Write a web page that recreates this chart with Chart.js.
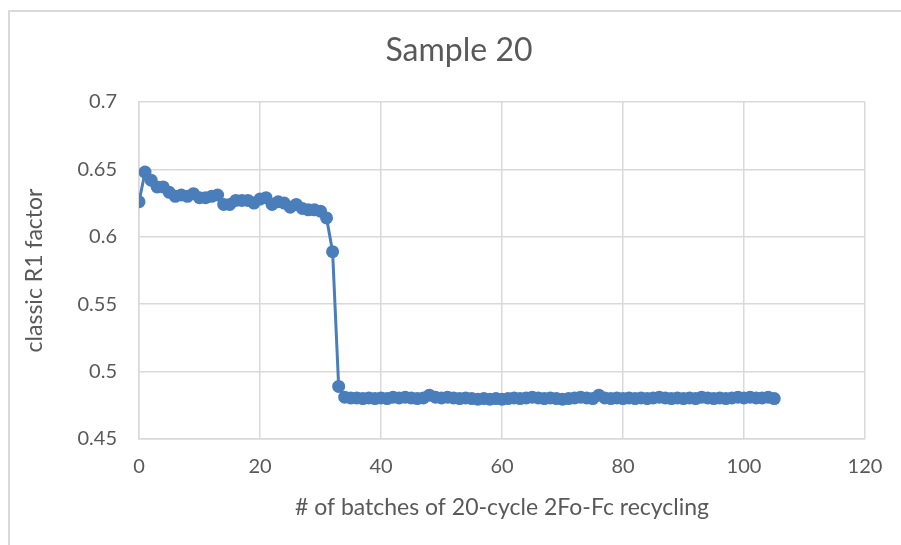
<!DOCTYPE html>
<html>
<head>
<meta charset="utf-8">
<script src="https://cdn.jsdelivr.net/npm/chart.js@4/dist/chart.umd.min.js"></script>
<style>
    html, body { margin: 0; padding: 0; background: #fff; }
    #wrap { position: relative; width: 901px; height: 545px; overflow: hidden; }
    #frame { position: absolute; left: 8px; top: 10px; width: 1000px; height: 600px; border: 2px solid #d9d9d9; box-sizing: border-box; }
    canvas { position: absolute; left: 0; top: 0; }
</style>
</head>
<body>
<div id="wrap">
    <div id="frame"></div>
    <canvas id="r1Chart" width="901" height="545"></canvas>
</div>
<script>
// Дані графіка
const chartTitle = 'Sample 20';
const xAxisTitle = '# of batches of 20-cycle 2Fo-Fc recycling';
const yAxisTitle = 'classic R1 factor';

const xTicks = [0, 20, 40, 60, 80, 100, 120];
const yTicks = [0.45, 0.5, 0.55, 0.6, 0.65, 0.7];

// Значення R1 для партій 0..105
const r1Values = [
    0.626, 0.648, 0.642, 0.637, 0.637, 0.633, 0.630, 0.631, 0.630, 0.632,
    0.629, 0.629, 0.630, 0.631, 0.624, 0.624, 0.627, 0.627, 0.627, 0.625,
    0.628, 0.629, 0.624, 0.626, 0.625, 0.622, 0.624, 0.621, 0.620, 0.620,
    0.619, 0.614, 0.589, 0.489, 0.481, 0.4805, 0.4805, 0.480, 0.4805, 0.480,
    0.4805, 0.480, 0.481, 0.4805, 0.481, 0.4805, 0.480, 0.4805, 0.4825, 0.481,
    0.4805, 0.481, 0.4805, 0.480, 0.4805, 0.480, 0.4795, 0.480, 0.4795, 0.480,
    0.4795, 0.480, 0.4805, 0.480, 0.4805, 0.481, 0.4805, 0.480, 0.4805, 0.480,
    0.4795, 0.480, 0.4805, 0.481, 0.4805, 0.480, 0.4825, 0.4805, 0.480, 0.4805,
    0.480, 0.4805, 0.480, 0.4805, 0.480, 0.4805, 0.481, 0.4805, 0.480, 0.4805,
    0.480, 0.4805, 0.480, 0.481, 0.4805, 0.480, 0.4805, 0.480, 0.4805, 0.481,
    0.4805, 0.481, 0.4805, 0.4805, 0.481, 0.480
];
const batches = r1Values.map((v, i) => i);

const lineColor = '#4a7ebb';
const textColor = '#595959';
const gridColor = '#d9d9d9';
const fontFamily = 'Lato, "Open Sans", sans-serif';

// Лівий відступ більший, щоб заголовок стояв по центру рамки, як в Excel
const padLeft = 53;

new Chart(document.getElementById('r1Chart'), {
    type: 'line',
    data: {
        datasets: [{
            data: batches.map((x, i) => ({ x: x, y: r1Values[i] })),
            borderColor: lineColor,
            backgroundColor: lineColor,
            borderWidth: 3,
            pointRadius: 6.5,
            pointHoverRadius: 6.5,
            pointBorderWidth: 0,
            tension: 0
        }]
    },
    options: {
        responsive: false,
        animation: false,
        layout: {
            padding: { left: padLeft, right: 36, top: 0, bottom: 20 }
        },
        plugins: {
            legend: { display: false },
            tooltip: { enabled: false },
            title: {
                display: true,
                text: chartTitle,
                color: textColor,
                font: { family: fontFamily, size: 32, weight: 'normal', lineHeight: 1.2 },
                padding: { top: 31, bottom: 32.6 }
            }
        },
        scales: {
            x: {
                type: 'linear',
                min: 0,
                max: 120,
                afterBuildTicks: axis => { axis.ticks = xTicks.map(v => ({ value: v })); },
                afterFit: axis => { axis.height = 545 - 20 - 439; },
                ticks: {
                    color: textColor,
                    font: { family: fontFamily, size: 20 },
                    padding: 16,
                    maxRotation: 0
                },
                grid: { color: gridColor, lineWidth: 1.5, drawTicks: false },
                border: { color: gridColor, width: 1.5 },
                title: {
                    display: true,
                    text: xAxisTitle,
                    color: textColor,
                    font: { family: fontFamily, size: 23 },
                    padding: { top: 4, bottom: 4 }
                }
            },
            y: {
                type: 'linear',
                min: 0.45,
                max: 0.7,
                afterBuildTicks: axis => { axis.ticks = yTicks.map(v => ({ value: v })); },
                afterFit: axis => { axis.width = 139 - padLeft; },
                ticks: {
                    color: textColor,
                    font: { family: fontFamily, size: 20 },
                    padding: 22,
                    callback: v => String(Math.round(v * 100) / 100)
                },
                grid: { color: gridColor, lineWidth: 1.5, drawTicks: false },
                border: { color: gridColor, width: 1.5 },
                title: {
                    display: true,
                    text: yAxisTitle,
                    color: textColor,
                    font: { family: fontFamily, size: 23 },
                    padding: { top: 35 - padLeft - 13.8, bottom: 4 }
                }
            }
        }
    }
});
</script>
</body>
</html>
